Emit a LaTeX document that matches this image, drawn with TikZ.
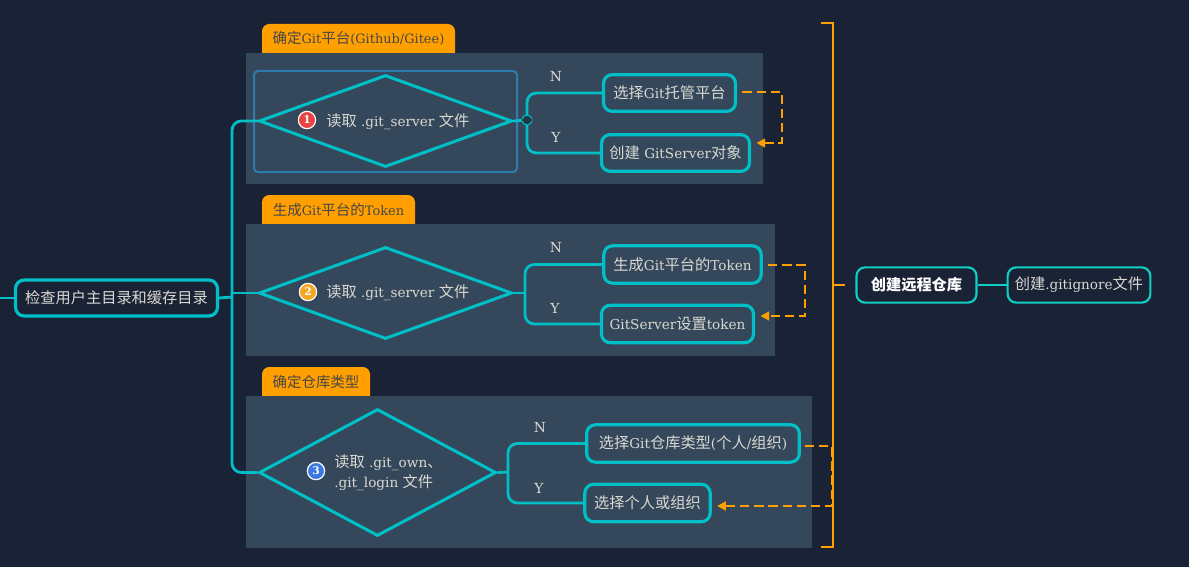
\documentclass[tikz,border=0pt]{standalone}
\usepackage{fontspec}
\setmainfont{DejaVu Serif}
\newfontfamily\cjkf[Scale=1.12]{Noto Sans CJK SC}
\newcommand{\zh}[1]{{\cjkf #1}}
\usetikzlibrary{shapes.geometric,arrows.meta}
\definecolor{bgc}{HTML}{1A2235}
\definecolor{panelc}{HTML}{35475A}
\definecolor{tealc}{HTML}{00BFC6}
\definecolor{lightteal}{HTML}{0FD0C4}
\definecolor{orangec}{HTML}{FF9F00}
\definecolor{selc}{HTML}{2F7CAC}
\definecolor{txtc}{HTML}{D9D9D2}
\definecolor{badger}{HTML}{E94343}
\definecolor{badgeo}{HTML}{F5A623}
\definecolor{badgeb}{HTML}{3B78E0}
\definecolor{junctc}{HTML}{123C4C}
\tikzset{
  x=0.75pt,y=-0.75pt,
  panel/.style={fill=panelc,draw=none},
  tabfill/.style={fill=orangec,draw=none,rounded corners=5.5pt},
  tabtext/.style={text=black!72,font=\fontsize{9.7pt}{11pt}\selectfont,inner sep=0pt},
  box/.style={draw=tealc,line width=2.4pt,rounded corners=6.5pt,inner sep=0pt,
    text=txtc,font=\fontsize{10.2pt}{12pt}\selectfont},
  thinbox/.style={draw=lightteal,line width=1.6pt,rounded corners=6.5pt,inner sep=0pt,
    text=txtc,font=\fontsize{10.2pt}{12pt}\selectfont},
  decide/.style={diamond,draw=tealc,line width=2.3pt,inner sep=0pt,aspect=2.75},
  link/.style={draw=tealc,line width=2.1pt,rounded corners=7pt},
  thinlink/.style={draw=lightteal,line width=1.6pt},
  dashlink/.style={draw=orangec,line width=1.8pt,dash pattern=on 7pt off 3.6pt},
  brace/.style={draw=orangec,line width=1.6pt},
  lab/.style={text=txtc,font=\fontsize{10.2pt}{12pt}\selectfont,inner sep=0pt},
  yn/.style={text=txtc,font=\fontsize{10.4pt}{12pt}\selectfont,inner sep=0pt},
  badge/.style={circle,draw=white,line width=0.9pt,minimum size=13pt,inner sep=0pt,
    text=white,font=\fontsize{8pt}{9pt}\bfseries\selectfont},
  junct/.style={circle,draw=tealc,fill=junctc,line width=0.7pt,minimum size=7.5pt,inner sep=0pt},
}
\begin{document}
\begin{tikzpicture}
\useasboundingbox[fill=bgc] (0,0) rectangle (1189,567);
% tabs
\fill[tabfill] (262,60) -- (262,24) -- (455,24) -- (455,60) -- cycle;
\fill[tabfill] (262,231) -- (262,195) -- (415,195) -- (415,231) -- cycle;
\fill[tabfill] (262,403) -- (262,367) -- (370,367) -- (370,403) -- cycle;
% panels
\fill[panel] (246,53) rectangle (763,184);
\fill[panel] (246,224) rectangle (775,356);
\fill[panel] (246,396) rectangle (812,548);
\node[tabtext] (t1) at (358.5,38.5) {\zh{确定}Git\zh{平台}(Github/Gitee)};
\node[tabtext] (t2) at (338.5,210) {\zh{生成}Git\zh{平台的}Token};
\node[tabtext] (t3) at (316,381.5) {\zh{确定仓库类型}};
% selection frame
\draw[selc,line width=1.5pt,rounded corners=3pt] (254,71) rectangle (517,172);
% diamonds
\node[decide,minimum width=189.75pt,minimum height=69pt] (d1) at (385.5,121) {};
\node[decide,minimum width=189.75pt,minimum height=69pt] (d2) at (385.5,293) {};
\node[decide,minimum width=177.75pt,minimum height=95.25pt,aspect=1.87] (d3) at (377.5,472.5) {};
% diamond texts
\node[badge,fill=badger] (b1) at (307,120) {1};
\node[badge,fill=badgeo] (b2) at (308,292) {2};
\node[badge,fill=badgeb] (b3) at (316,471) {3};
\node[lab,anchor=west] (l1) at (326,121.5) {\zh{读取} .git\_server \zh{文件}};
\node[lab,anchor=west] (l2) at (326,292.5) {\zh{读取} .git\_server \zh{文件}};
\node[lab,anchor=west] (l3a) at (334,462.5) {\zh{读取} .git\_own\zh{、}};
\node[lab,anchor=west] (l3b) at (334,482.5) {.git\_login \zh{文件}};
% boxes
\node[box,minimum width=151.5pt,minimum height=27pt] (m) at (116.5,298) {\zh{检查用户主目录和缓存目录}};
\node[box,minimum width=99pt,minimum height=27.5pt] (n1) at (669.5,93) {\zh{选择}Git\zh{托管平台}};
\node[box,minimum width=111pt,minimum height=27.5pt] (y1) at (675.5,153) {\zh{创建} GitServer\zh{对象}};
\node[box,minimum width=118pt,minimum height=28pt] (n2) at (682.5,264.5) {\zh{生成}Git\zh{平台的}Token};
\node[box,minimum width=114pt,minimum height=28pt] (y2) at (677.5,324) {GitServer\zh{设置}token};
\node[box,minimum width=159.5pt,minimum height=28pt] (n3) at (693,443.5) {\zh{选择}Git\zh{仓库类型}(\zh{个人}/\zh{组织})};
\node[box,minimum width=94pt,minimum height=28pt] (y3) at (647.5,503) {\zh{选择个人或组织}};
\node[thinbox,minimum width=90pt,minimum height=26.5pt,text=white,font=\fontsize{10.2pt}{12pt}\bfseries\selectfont] (c) at (916.5,285) {\zh{创建远程仓库}};
\node[thinbox,minimum width=107pt,minimum height=26.5pt] (g) at (1079,285) {\zh{创建}.gitignore\zh{文件}};
% spine
\coordinate (left) at (0,298);
\coordinate (sp) at (232,297);
\draw[link] (left) -- (m.west);
\draw[link] (m.east) -- (sp);
\draw[link] (d1.west) -| (sp) |- (d3.west);
\draw[link] (sp |- d2.west) -- (d2.west);
% branches
\coordinate (j2) at (525,293);
\coordinate (j3) at (508,472);
\node[junct] (j1) at (527,120) {};
\draw[link] (d1.east) -- (j1);
\draw[link] (j1.center) |- (n1.west);
\draw[link] (j1.center) |- (y1.west);
\node[junct] (j1b) at (527,120) {};
\draw[black!80,line width=0.8pt] (j1b.west) -- (j1b.east);
\draw[link] (d2.east) -- (j2);
\draw[link] (j2) |- (n2.west);
\draw[link] (j2) |- (y2.west);
\draw[link] (d3.east) -- (j3);
\draw[link] (j3) |- (n3.west);
\draw[link] (j3) |- (y3.west);
% N / Y
\node[yn] (N1) at (556,77) {N};
\node[yn] (Y1) at (556,137) {Y};
\node[yn] (N2) at (556,248) {N};
\node[yn] (Y2) at (555,308) {Y};
\node[yn] (N3) at (540,428) {N};
\node[yn] (Y3) at (539,488) {Y};
% dashed feedback
\coordinate (a1) at (782,92);
\coordinate (a2) at (782,143);
\coordinate (a3) at (805,265);
\coordinate (a4) at (805,316);
\coordinate (a5) at (832,446);
\coordinate (a6) at (832,506);
\draw[dashlink,-{Triangle[length=6.5pt,width=6.5pt]}] ([xshift=4pt]n1.east |- a1) -- (a1) -- (a2) -- ([xshift=4pt]y1.east |- a2);
\draw[dashlink,-{Triangle[length=6.5pt,width=6.5pt]}] ([xshift=4pt]n2.east |- a3) -- (a3) -- (a4) -- ([xshift=4pt]y2.east |- a4);
\draw[dashlink,-{Triangle[length=6.5pt,width=6.5pt]}] ([xshift=3pt]n3.east |- a5) -- (a5) -- (a6) -- ([xshift=4pt]y3.east |- a6);
% bracket
\draw[brace] (821,23) -- (833,23) -- (833,547) -- (821,547);
\coordinate (br) at (833,285);
\draw[brace] (br) -- (845,285);
\draw[thinlink] (c.east) -- (g.west);
\end{tikzpicture}
\end{document}
